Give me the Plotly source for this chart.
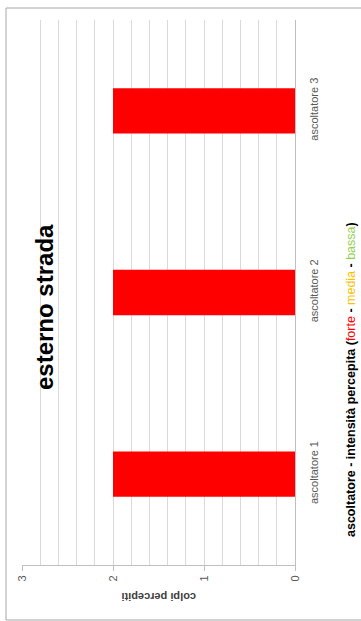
import plotly.graph_objects as go

# Perceived hits per listener, street exterior
listeners = ["ascoltatore 1", "ascoltatore 2", "ascoltatore 3"]
hits = [2, 2, 2]
value_ticks = [0, 1, 2, 3]

W, H = 361, 621
ML, MR, MT, MB = 22, 66, 20, 56
PW, PH = W - ML - MR, H - MT - MB


def px_to_paper(px, py):
    return (px - ML) / PW, (H - MB - py) / PH


fig = go.Figure()
fig.add_trace(go.Bar(
    x=hits,
    y=listeners,
    orientation="h",
    marker=dict(color="#FF0000", line=dict(width=0)),
    hoverinfo="x+y",
))

grid = "#D9D9D9"
axis_line = "#BFBFBF"
tick_font = dict(family="Liberation Sans, Arial, sans-serif", size=11, color="#595959")

fig.update_layout(
    width=W,
    height=H,
    margin=dict(l=ML, r=MR, t=MT, b=MB, pad=0),
    paper_bgcolor="white",
    plot_bgcolor="white",
    showlegend=False,
    bargap=0.75,
    xaxis=dict(
        range=[3, 0],
        tickvals=value_ticks,
        ticktext=[str(v) for v in value_ticks],
        tickangle=-90,
        tickfont=tick_font,
        ticks="outside",
        ticklen=5,
        tickcolor=axis_line,
        showline=True,
        linecolor=axis_line,
        linewidth=1,
        showgrid=True,
        gridcolor=grid,
        gridwidth=1,
        zeroline=False,
        minor=dict(dtick=0.2, showgrid=True, gridcolor=grid, gridwidth=1, ticks=""),
        fixedrange=True,
    ),
    yaxis=dict(
        side="right",
        tickangle=-90,
        tickfont=tick_font,
        ticks="",
        showline=True,
        linecolor=axis_line,
        linewidth=1,
        showgrid=False,
        zeroline=False,
        ticklabelstandoff=9,
        fixedrange=True,
    ),
)

# Chart title, rotated
tx, ty = px_to_paper(44, 307)
fig.add_annotation(
    x=tx, y=ty, xref="paper", yref="paper",
    text="<b>esterno strada</b>",
    textangle=-90, showarrow=False,
    xanchor="center", yanchor="middle",
    font=dict(family="Liberation Sans, Arial, sans-serif", size=24, color="#000000"),
)

# Value axis title
vx, vy = px_to_paper(159, 597)
fig.add_annotation(
    x=vx, y=vy, xref="paper", yref="paper",
    text="<b>colpi percepiti</b>",
    textangle=180, showarrow=False,
    xanchor="center", yanchor="middle",
    font=dict(family="Liberation Sans, Arial, sans-serif", size=11, color="#404040"),
)

# Category axis title with the intensity legend coloured inline
cx, cy = px_to_paper(351, 380)
cat_title = (
    "<b>ascoltatore - intensità percepita (</b>"
    "<span style='color:#FF0000'>forte</span>"
    "<b> - </b>"
    "<span style='color:#FFC000'>media</span>"
    "<b> - </b>"
    "<span style='color:#92D050'>bassa</span>"
    "<b>)</b>"
)
fig.add_annotation(
    x=cx, y=cy, xref="paper", yref="paper",
    text=cat_title,
    textangle=-90, showarrow=False,
    xanchor="center", yanchor="middle",
    font=dict(family="Liberation Sans, Arial, sans-serif", size=12.5, color="#000000"),
)

# Chart area frame
fx0, fy0 = px_to_paper(6, 8)
fx1, fy1 = px_to_paper(W + 5, H - 1)
fig.add_shape(
    type="rect", xref="paper", yref="paper",
    x0=fx0, y0=fy1, x1=fx1, y1=fy0,
    line=dict(color="#A6A6A6", width=1),
    fillcolor="rgba(0,0,0,0)",
    layer="below",
)

fig.write_html("out.html")
